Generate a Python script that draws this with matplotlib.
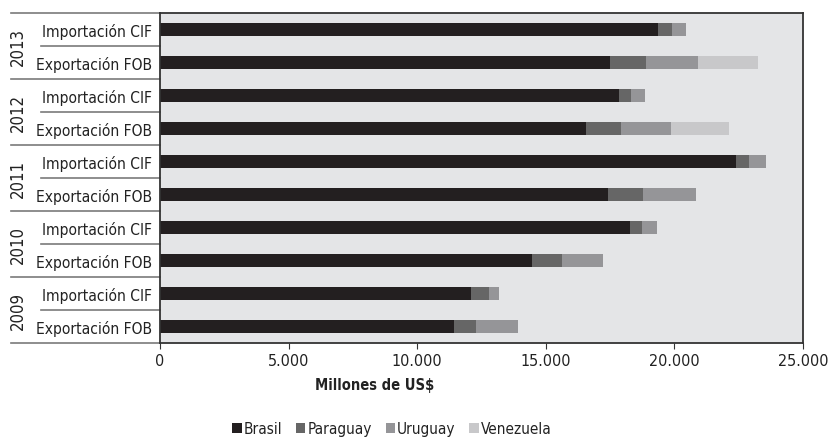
import matplotlib
matplotlib.use("Agg")
import matplotlib.pyplot as plt
import matplotlib.transforms as mtransforms

plt.rcParams['font.family'] = ['DejaVu Sans']
plt.rcParams['font.stretch'] = 'condensed'

# filas de abajo hacia arriba
years = [2009, 2010, 2011, 2012, 2013]
rows = ["Exportación FOB", "Importación CIF"] * 5
brasil = [11430, 12090, 14460, 18270, 17420, 22400, 16560, 17850, 17500, 19360]
paraguay = [860, 700, 1170, 470, 1360, 500, 1360, 450, 1400, 540]
uruguay = [1630, 390, 1590, 580, 2060, 660, 1950, 560, 2000, 550]
venezuela = [0, 0, 0, 0, 0, 0, 2250, 0, 2350, 0]

series = [("Brasil", brasil, "#231f20"),
          ("Paraguay", paraguay, "#666666"),
          ("Uruguay", uruguay, "#959598"),
          ("Venezuela", venezuela, "#c8c8ca")]

fig = plt.figure(figsize=(8.31, 4.39), dpi=100)
ax = fig.add_axes([160/831, 1-344/439, 643/831, 330/439])
ax.set_facecolor("#e4e5e7")

pos = list(range(len(rows)))
left = [0]*len(rows)
for name, vals, col in series:
    ax.barh(pos, vals, left=left, height=0.4, color=col, label=name)
    left = [a+b for a, b in zip(left, vals)]

ax.set_ylim(-0.5, len(rows)-0.5)
ax.set_xlim(0, 25000)
ax.set_xticks(range(0, 25001, 5000))
ax.set_xticklabels([f"{v:,}".replace(",", ".") for v in range(0, 25001, 5000)], fontsize=11.5, color="#222222")
ax.set_yticks(pos)
ax.set_yticklabels(rows, fontsize=11.2, color="#222222")
ax.tick_params(axis="y", length=0, pad=6)
ax.tick_params(axis="x", length=4, direction="out", color="#333333", pad=3)
for s in ax.spines.values():
    s.set_color("#333333")
    s.set_linewidth(1.3)

tr = mtransforms.blended_transform_factory(ax.transAxes, ax.transData)
for i, y in enumerate(years):
    ax.text(-0.221, 2*i+0.5, str(y), transform=tr, rotation=90, ha="center", va="center",
            fontsize=12, color="#222222")
# lineas separadoras
for k in range(len(rows)+1):
    yy = k - 0.5
    x0 = -0.232 if k % 2 == 0 else -0.185
    ax.plot([x0, 0], [yy, yy], transform=tr, color="#7a7a7a", lw=1.2, clip_on=False)

fig.text(375/831, 1-386/439, "Millones de US$", ha="center", va="center",
         fontsize=10.5, fontweight="bold", color="#222222")
fig.legend(loc="center", bbox_to_anchor=(392/831, 1-430/439), ncol=4, frameon=False,
           fontsize=11, handlelength=0.6, handleheight=0.6, handletextpad=0.15,
           columnspacing=0.9, labelcolor="#222222")

fig.savefig("out.png", dpi=100)
